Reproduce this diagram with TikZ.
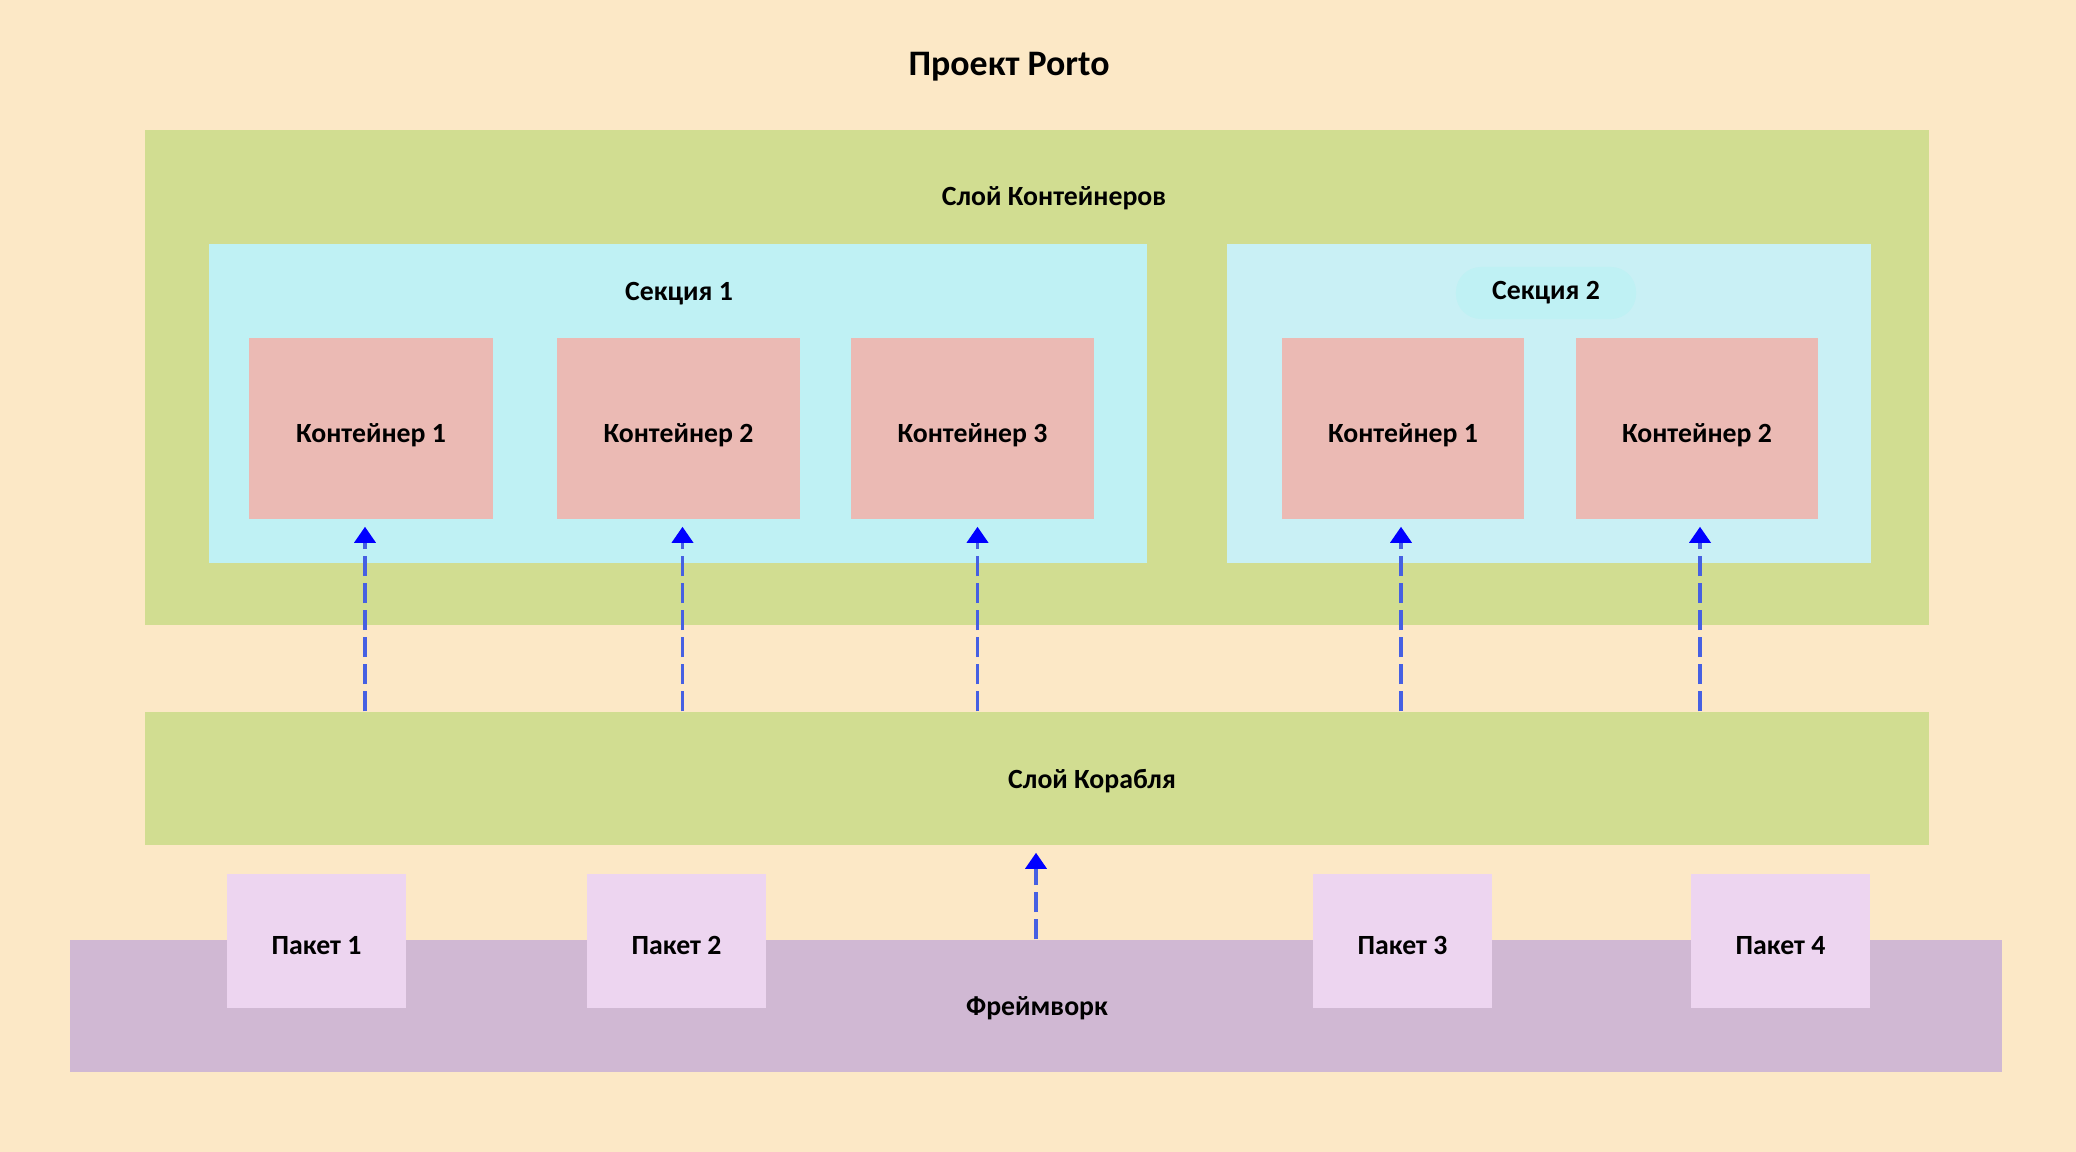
\documentclass[tikz,border=0pt]{standalone}
\usepackage{fontspec}
\setmainfont{Carlito}
\usepackage{xcolor}
\usetikzlibrary{arrows.meta, positioning, calc}

\definecolor{bgcream}{RGB}{252,232,198}
\definecolor{layergreen}{RGB}{209,221,145}
\definecolor{secone}{RGB}{191,241,244}
\definecolor{sectwo}{RGB}{201,240,245}
\definecolor{contpink}{RGB}{235,186,180}
\definecolor{pkglilac}{RGB}{237,213,240}
\definecolor{fwpurple}{RGB}{208,184,211}
\definecolor{flowline}{RGB}{70,96,226}

\begin{document}
\begin{tikzpicture}[x=0.01cm,y=-0.01cm,
    font=\fontsize{7.9}{10}\selectfont\bfseries,
    box/.style={rectangle,inner sep=0pt,text=black},
    layer/.style={box,fill=layergreen,minimum width=17.82cm},
    container/.style={box,fill=contpink,minimum width=2.43cm,minimum height=1.81cm,
      text height=0.3cm,text depth=0.02cm},
    package/.style={box,fill=pkglilac,minimum width=1.78cm,minimum height=1.34cm,
      text height=0.29cm,text depth=0.02cm},
    flow/.style={draw=flowline,line width=0.035cm,dash pattern=on 0.2cm off 0.07cm,
      -{Triangle[width=0.21cm,length=0.16cm,color=blue]},shorten >=0.07cm}]

  \fill[bgcream] (0,0) rectangle (2076,1152);
  \useasboundingbox (0,0) rectangle (2076,1152);

  \node[box] (title) at (1009,67) {\fontsize{10.2}{12}\selectfont Проект Porto};

  % container layer
  \node[layer,minimum height=4.95cm] (layerC) at (1037,377.5) {};
  \node[box] (layerCname) at (1054,198) {Слой Контейнеров};

  \node[box,fill=secone,minimum width=9.38cm,minimum height=3.19cm] (sec1) at (678,403.5) {};
  \node[box] (sec1name) at (679,294) {Секция 1};
  \node[box,fill=sectwo,minimum width=6.44cm,minimum height=3.19cm] (sec2) at (1549,403.5) {};
  \node[box,fill=secone,rounded corners=0.25cm,minimum width=1.8cm,minimum height=0.52cm] (sec2name) at (1546,293) {Секция 2};

  \node[container] (c1) at (371,428.5) {Контейнер 1};
  \node[container] (c2) at (678.5,428.5) {Контейнер 2};
  \node[container] (c3) at (972.5,428.5) {Контейнер 3};
  \node[container,minimum width=2.42cm] (d1) at (1403,428.5) {Контейнер 1};
  \node[container,minimum width=2.42cm] (d2) at (1697,428.5) {Контейнер 2};

  % ship layer
  \node[layer,minimum height=1.33cm] (ship) at (1037,778.5) {};
  \node[box] (shipname) at (1092,781) {Слой Корабля};

  % framework
  \node[box,fill=fwpurple,minimum width=19.30cm,minimum height=1.32cm] (fw) at (1036,1006) {};
  \node[box] (fwname) at (1037,1008) {Фреймворк};
  \node[package] (p1) at (316.5,941) {Пакет 1};
  \node[package] (p2) at (676.5,941) {Пакет 2};
  \node[package] (p3) at (1402.5,941) {Пакет 3};
  \node[package] (p4) at (1780.5,941) {Пакет 4};

  \foreach \c/\dx in {c1/-6,c2/4,c3/5,d1/-2,d2/3}
    \draw[flow] ([xshift=\dx*0.01cm]\c.south |- ship.north) -- ([xshift=\dx*0.01cm]\c.south);
  \draw[flow] (fw.north) -- (fw.north |- ship.south);
\end{tikzpicture}
\end{document}
